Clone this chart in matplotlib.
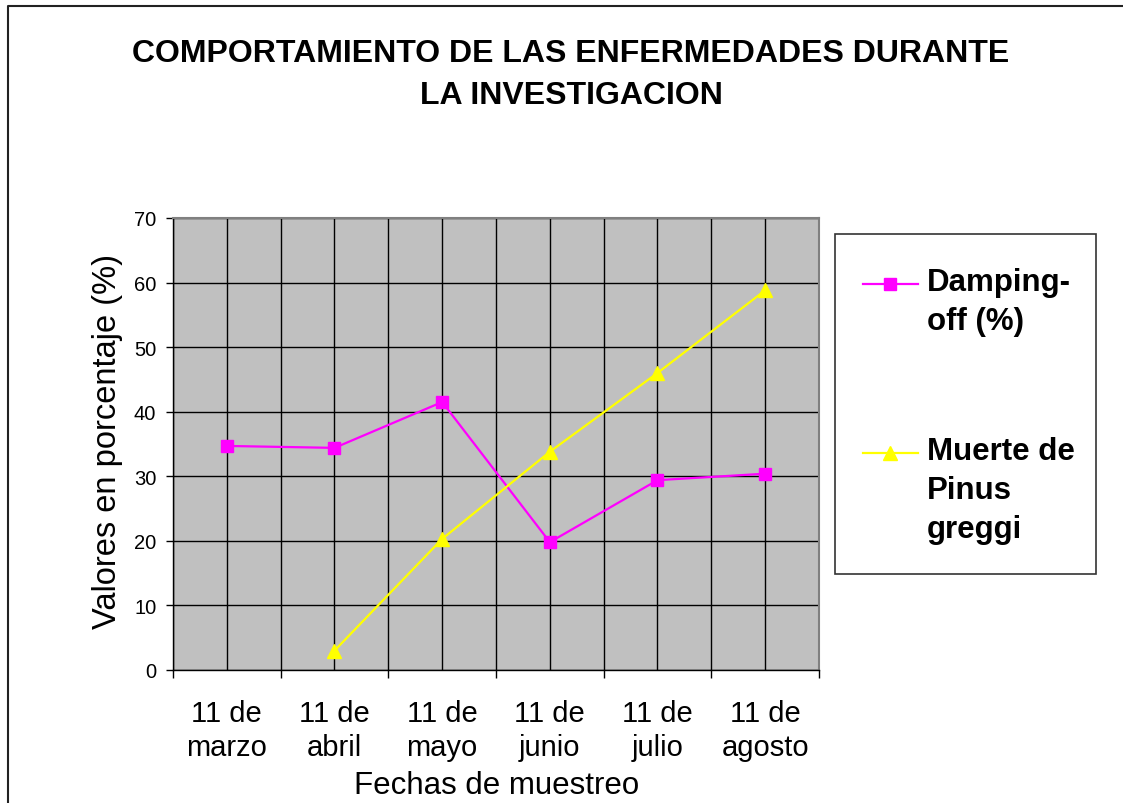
import matplotlib.pyplot as plt
from matplotlib.lines import Line2D
from matplotlib.patches import Rectangle
import numpy as np

plt.rcParams["font.family"] = ["Liberation Sans", "DejaVu Sans"]

fechas = ["11 de\nmarzo", "11 de\nabril", "11 de\nmayo", "11 de\njunio", "11 de\njulio", "11 de\nagosto"]
damping_off = [34.7, 34.4, 41.5, 19.8, 29.4, 30.4]
muerte_pinus = [np.nan, 3.0, 20.3, 33.8, 46.0, 58.8]
serie_labels = ["Damping-\noff (%)", "Muerte de\nPinus\ngreggi"]
y_ticks = [0, 10, 20, 30, 40, 50, 60, 70]

W, H = 1123, 804
fig = plt.figure(figsize=(W / 100, H / 100), dpi=100)


def fx(px):
    return px / W


def fy(py):
    return 1 - py / H


ax = fig.add_axes([fx(173), fy(671), fx(819 - 173), (671 - 219) / H])
ax.set_facecolor("#C0C0C0")

x = np.arange(len(fechas))
ax.plot(x, damping_off, color="#FF00FF", lw=1.6, marker="s", ms=8.5,
        mec="#FF00FF", mfc="#FF00FF", zorder=3)
ax.plot(x, muerte_pinus, color="#FFFF00", lw=1.6, marker="^", ms=10,
        mec="#FFFF00", mfc="#FFFF00", zorder=3)

ax.set_xlim(-0.5, len(fechas) - 0.5)
ax.set_ylim(0, 70)

# category boundaries carry the tick marks, centres carry the labels
ax.set_xticks(np.arange(-0.5, len(fechas), 1.0))
ax.set_xticklabels([])
ax.set_xticks(x, minor=True)
ax.set_xticklabels(fechas, minor=True, fontsize=21, linespacing=1.25)
ax.tick_params(axis="x", which="major", direction="out", length=6, width=1, color="black")
ax.tick_params(axis="x", which="minor", length=0, pad=21)
ax.set_yticks(y_ticks)
ax.tick_params(axis="y", direction="out", length=5, width=1, pad=7, labelsize=14.5)

ax.grid(True, axis="x", which="both", color="black", lw=1)
ax.grid(True, axis="y", which="major", color="black", lw=1)
ax.set_axisbelow(True)

for side in ("top", "right"):
    ax.spines[side].set_color("#808080")
    ax.spines[side].set_linewidth(1.5)
for side in ("left", "bottom"):
    ax.spines[side].set_color("black")
    ax.spines[side].set_linewidth(1)

ax.set_xlabel("Fechas de muestreo", fontsize=22.5)
ax.xaxis.set_label_coords((497 - 173) / (819 - 173), -(771 - 671) / (671 - 219))
ax.set_ylabel("Valores en porcentaje (%)", fontsize=23.5)
ax.yaxis.set_label_coords(-(173 - 123) / (819 - 173), (671 - 442) / (671 - 219))

fig.text(fx(571), fy(75), "COMPORTAMIENTO DE LAS ENFERMEDADES DURANTE\nLA INVESTIGACION",
         ha="center", va="center", fontsize=23, fontweight="bold", linespacing=1.5)

# legend box
fig.add_artist(Rectangle((fx(835), fy(575)), fx(1096 - 835), (575 - 235) / H,
                         transform=fig.transFigure, fill=False, ec="#333333", lw=1.2))
handle_styles = [("#FF00FF", "s", 8.5), ("#FFFF00", "^", 10)]
for (c, m, ms), label, ymid in zip(handle_styles, serie_labels, [285, 454]):
    fig.add_artist(Line2D([fx(863), fx(918)], [fy(ymid), fy(ymid)], transform=fig.transFigure,
                          color=c, lw=1.6))
    fig.add_artist(Line2D([fx(890)], [fy(ymid)], transform=fig.transFigure,
                          color=c, marker=m, ms=ms, mec=c, mfc=c))
    fig.text(fx(927), fy(ymid - 17), label, ha="left", va="top", fontsize=22.5,
             fontweight="bold", linespacing=1.4)

# chart area border (only left and top visible in the crop)
fig.add_artist(Line2D([fx(8), fx(8), fx(W + 5)], [fy(H + 5), fy(7), fy(7)],
                      transform=fig.transFigure, color="#222222", lw=1.5))

fig.savefig("out.png", dpi=100)
